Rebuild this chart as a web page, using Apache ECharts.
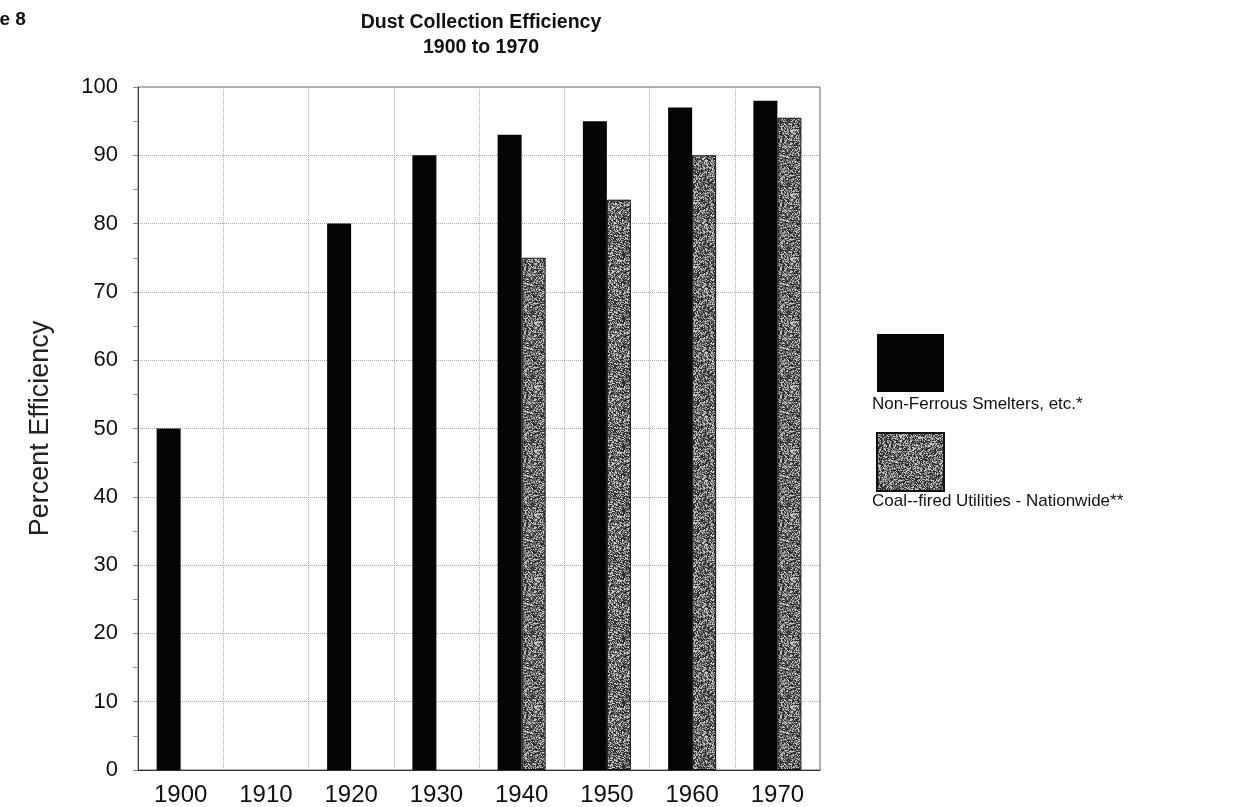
<!DOCTYPE html>
<html>
<head>
<meta charset="utf-8">
<script src="https://cdn.jsdelivr.net/npm/echarts@6/dist/echarts.min.js"></script>
<style>
html,body{margin:0;padding:0;background:#fff;}
#chart{width:1240px;height:807px;}
</style>
</head>
<body>
<div id="chart"></div>
<script>
const categories = ['1900','1910','1920','1930','1940','1950','1960','1970'];
const smelters = [50, null, 80, 90, 93, 95, 97, 98];
const utilities = [null, null, null, null, 75, 83.5, 90, 95.5];
const seriesNames = ['Non-Ferrous Smelters, etc.*', 'Coal--fired Utilities - Nationwide**'];
const yTicks = [0, 10, 20, 30, 40, 50, 60, 70, 80, 90, 100];

const FONT = '"Liberation Sans", Arial, sans-serif';

// speckled gray fill (deterministic hash texture, like the scanned halftone)
function makeSpeckle() {
  const c = document.createElement('canvas');
  c.width = 64; c.height = 64;
  const ctx = c.getContext('2d');
  const img = ctx.createImageData(64, 64);
  for (let y = 0; y < 64; y++) {
    for (let x = 0; x < 64; x++) {
      let h = (x * 374761393 + y * 668265263) | 0;
      h = Math.imul(h ^ (h >>> 13), 1274126177);
      h = (h ^ (h >>> 16)) >>> 0;
      const t = h % 100;
      const v = t < 40 ? 45 : (t < 76 ? 125 : 205);
      const i = (y * 64 + x) * 4;
      img.data[i] = v; img.data[i + 1] = v; img.data[i + 2] = v; img.data[i + 3] = 255;
    }
  }
  ctx.putImageData(img, 0, 0);
  return c;
}
const speckle = makeSpeckle();

const chart = echarts.init(document.getElementById('chart'), null, {renderer: 'canvas'});

chart.setOption({
  backgroundColor: '#ffffff',
  animation: false,
  textStyle: {fontFamily: FONT},
  title: {
    text: 'Dust Collection Efficiency\n1900 to 1970',
    left: 476, top: 5, textAlign: 'center',
    textStyle: {fontFamily: FONT, fontSize: 19.5, fontWeight: 'bold', color: '#111', lineHeight: 25}
  },
  graphic: [
    {type: 'text', left: -48, top: 10, style: {text: 'Figure 8', font: 'bold 19px ' + FONT, fill: '#111'}},
    {type: 'text', left: 872, top: 396, style: {text: seriesNames[0], font: '17px ' + FONT, fill: '#111'}},
    {type: 'text', left: 872, top: 493, style: {text: seriesNames[1], font: '17px ' + FONT, fill: '#111'}}
  ],
  legend: {
    orient: 'vertical',
    left: 871, top: 329,
    itemWidth: 67, itemHeight: 58,
    itemGap: 40,
    icon: 'rect',
    formatter: function () { return ''; },
    data: seriesNames,
    selectedMode: false
  },
  grid: {
    left: 138, right: 420, top: 87, bottom: 37,
    show: true, borderColor: '#666', borderWidth: 1, backgroundColor: 'transparent'
  },
  xAxis: {
    type: 'category',
    data: categories,
    axisLine: {show: true, lineStyle: {color: '#333', width: 1}},
    axisTick: {show: false},
    axisLabel: {fontSize: 24, color: '#111', margin: 13, fontFamily: FONT},
    splitLine: {show: true, lineStyle: {color: '#aaa', type: 'dotted', width: 1}}
  },
  yAxis: {
    type: 'value',
    min: 0, max: 100, interval: 10,
    name: 'Percent Efficiency',
    nameLocation: 'middle',
    nameGap: 84,
    nameTextStyle: {fontSize: 27, color: '#222', fontFamily: FONT},
    axisLine: {show: true, lineStyle: {color: '#444', width: 1}},
    axisTick: {show: true, length: 5, inside: false, lineStyle: {color: '#888'}},
    minorTick: {show: true, splitNumber: 2, length: 5, lineStyle: {color: '#999'}},
    axisLabel: {fontSize: 22, color: '#111', margin: 20, fontFamily: FONT,
      formatter: function (v) { return yTicks.indexOf(v) >= 0 ? String(v) : ''; }},
    splitLine: {show: true, lineStyle: {color: '#aaa', type: 'dotted', width: 1}}
  },
  series: [
    {
      name: seriesNames[0], type: 'bar', data: smelters,
      barWidth: 24, barGap: '0%',
      itemStyle: {color: '#050505'}
    },
    {
      name: seriesNames[1], type: 'bar', data: utilities,
      barWidth: 24,
      itemStyle: {color: {image: speckle, repeat: 'repeat'}, borderColor: '#111', borderWidth: 1}
    }
  ]
});
</script>
</body>
</html>
